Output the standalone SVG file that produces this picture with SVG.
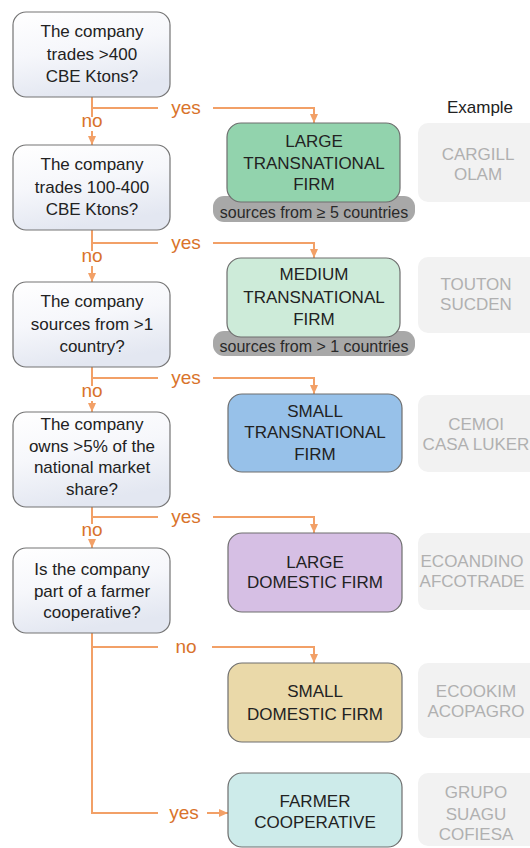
<svg xmlns="http://www.w3.org/2000/svg" width="530" height="848" viewBox="0 0 530 848">
<defs>
<linearGradient id="qg" x1="0" y1="0" x2="0.3" y2="1">
<stop offset="0" stop-color="#FFFFFF"/>
<stop offset="0.5" stop-color="#F6F7FB"/>
<stop offset="1" stop-color="#E3E7F1"/>
</linearGradient>
<marker id="ah" markerUnits="userSpaceOnUse" markerWidth="9" markerHeight="9" viewBox="0 0 9 9" refX="9" refY="4.5" orient="auto">
<path d="M0,0.5 L9,4.5 L0,8.5 Z" fill="#F2A067"/>
</marker>
<style>
.q{fill:url(#qg);stroke:#747474;stroke-width:1.2}
.r{stroke:#6E6E6E;stroke-width:1.2}
.ex{fill:#F2F2F2}
.t{font-family:"Liberation Sans",Arial,sans-serif;font-size:17px;fill:#222;text-anchor:middle}
.et{font-family:"Liberation Sans",Arial,sans-serif;font-size:17px;fill:#B0B0B0;text-anchor:middle}
.lb{font-family:"Liberation Sans",Arial,sans-serif;font-size:19px;fill:#D9732B;text-anchor:middle}
.pl{fill:#A8A8A8}
.pt{font-family:"Liberation Sans",Arial,sans-serif;font-size:16px;fill:#2A2A2A;text-anchor:middle}
.c{fill:none;stroke:#F2A067;stroke-width:2}
</style>
</defs>
<rect width="530" height="848" fill="#FFFFFF"/>

<g id="connectors">
<path class="c" d="M92,97 V117"/>
<path class="c" d="M92,131 V145" marker-end="url(#ah)"/>
<path class="c" d="M92,108 H158"/>
<path class="c" d="M213,108 H314 V123" marker-end="url(#ah)"/>

<path class="c" d="M92,230 V251"/>
<path class="c" d="M92,266 V282" marker-end="url(#ah)"/>
<path class="c" d="M92,243 H158"/>
<path class="c" d="M213,243 H314 V258" marker-end="url(#ah)"/>

<path class="c" d="M92,367 V386"/>
<path class="c" d="M92,401 V412" marker-end="url(#ah)"/>
<path class="c" d="M92,378 H158"/>
<path class="c" d="M213,378 H314 V394" marker-end="url(#ah)"/>

<path class="c" d="M92,507 V524"/>
<path class="c" d="M92,539 V548" marker-end="url(#ah)"/>
<path class="c" d="M92,517 H158"/>
<path class="c" d="M213,517 H314 V533" marker-end="url(#ah)"/>

<path class="c" d="M92,633 V813 H158"/>
<path class="c" d="M92,647 H158"/>
<path class="c" d="M212,647 H314 V663" marker-end="url(#ah)"/>
<path class="c" d="M207,813 H228" marker-end="url(#ah)"/>

<text class="lb" x="186" y="114">yes</text>
<text class="lb" x="92" y="127">no</text>
<text class="lb" x="186" y="249">yes</text>
<text class="lb" x="92" y="262">no</text>
<text class="lb" x="186" y="384">yes</text>
<text class="lb" x="92" y="397">no</text>
<text class="lb" x="186" y="523">yes</text>
<text class="lb" x="92" y="536">no</text>
<text class="lb" x="186" y="653">no</text>
<text class="lb" x="184" y="819">yes</text>
</g>

<g id="q1">
<rect class="q" x="13" y="12" width="157" height="85" rx="13"/>
<text class="t" x="92" y="37">The company</text>
<text class="t" x="92" y="60">trades &gt;400</text>
<text class="t" x="92" y="82">CBE Ktons?</text>
</g>
<g id="q2">
<rect class="q" x="13" y="145" width="157" height="85" rx="13"/>
<text class="t" x="92" y="170">The company</text>
<text class="t" x="92" y="193">trades 100-400</text>
<text class="t" x="92" y="215">CBE Ktons?</text>
</g>
<g id="q3">
<rect class="q" x="13" y="282" width="157" height="85" rx="13"/>
<text class="t" x="92" y="307">The company</text>
<text class="t" x="92" y="330">sources from &gt;1</text>
<text class="t" x="92" y="352">country?</text>
</g>
<g id="q4">
<rect class="q" x="13" y="412" width="157" height="95" rx="13"/>
<text class="t" x="92" y="430">The company</text>
<text class="t" x="92" y="452">owns &gt;5% of the</text>
<text class="t" x="92" y="473">national market</text>
<text class="t" x="92" y="495">share?</text>
</g>
<g id="q5">
<rect class="q" x="13" y="548" width="157" height="85" rx="13"/>
<text class="t" x="92" y="575">Is the company</text>
<text class="t" x="92" y="597">part of a farmer</text>
<text class="t" x="92" y="618">cooperative?</text>
</g>

<text id="example-header" class="t" x="480" y="113" fill="#333">Example</text>

<g id="large-transnational">
<rect class="pl" x="213" y="196" width="202" height="26" rx="11"/>
<rect class="r" x="227" y="123" width="173" height="79" rx="14" fill="#92D3AD"/>
<text class="pt" x="314" y="218">sources from ≥ 5 countries</text>
<text class="t" x="314" y="147">LARGE</text>
<text class="t" x="314" y="169">TRANSNATIONAL</text>
<text class="t" x="314" y="190">FIRM</text>
</g>
<g id="medium-transnational">
<rect class="pl" x="213" y="331" width="202" height="25" rx="11"/>
<rect class="r" x="227" y="258" width="173" height="79" rx="14" fill="#CDEBD9"/>
<text class="pt" x="314" y="352">sources from &gt; 1 countries</text>
<text class="t" x="314" y="280">MEDIUM</text>
<text class="t" x="314" y="303">TRANSNATIONAL</text>
<text class="t" x="314" y="325">FIRM</text>
</g>
<g id="small-transnational">
<rect class="r" x="228" y="394" width="174" height="78" rx="14" fill="#97C1E9"/>
<text class="t" x="315" y="417">SMALL</text>
<text class="t" x="315" y="438">TRANSNATIONAL</text>
<text class="t" x="315" y="460">FIRM</text>
</g>
<g id="large-domestic">
<rect class="r" x="228" y="533" width="174" height="79" rx="14" fill="#D6BFE4"/>
<text class="t" x="315" y="568">LARGE</text>
<text class="t" x="315" y="588">DOMESTIC FIRM</text>
</g>
<g id="small-domestic">
<rect class="r" x="228" y="663" width="174" height="79" rx="14" fill="#EAD9A9"/>
<text class="t" x="315" y="697">SMALL</text>
<text class="t" x="315" y="720">DOMESTIC FIRM</text>
</g>
<g id="farmer-cooperative">
<rect class="r" x="228" y="773" width="174" height="74" rx="14" fill="#CDEBEA"/>
<text class="t" x="315" y="807">FARMER</text>
<text class="t" x="315" y="828">COOPERATIVE</text>
</g>

<g id="ex1">
<rect class="ex" x="418" y="123" width="130" height="79" rx="10"/>
<text class="et" x="478" y="160">CARGILL</text>
<text class="et" x="478" y="180">OLAM</text>
</g>
<g id="ex2">
<rect class="ex" x="418" y="257" width="130" height="76" rx="10"/>
<text class="et" x="476" y="290">TOUTON</text>
<text class="et" x="476" y="310">SUCDEN</text>
</g>
<g id="ex3">
<rect class="ex" x="418" y="395" width="130" height="77" rx="10"/>
<text class="et" x="476" y="430">CEMOI</text>
<text class="et" x="476" y="450">CASA LUKER</text>
</g>
<g id="ex4">
<rect class="ex" x="418" y="533" width="130" height="77" rx="10"/>
<text class="et" x="472" y="567">ECOANDINO</text>
<text class="et" x="472" y="587">AFCOTRADE</text>
</g>
<g id="ex5">
<rect class="ex" x="418" y="663" width="130" height="75" rx="10"/>
<text class="et" x="476" y="697">ECOOKIM</text>
<text class="et" x="476" y="717">ACOPAGRO</text>
</g>
<g id="ex6">
<rect class="ex" x="418" y="773" width="130" height="73" rx="10"/>
<text class="et" x="476" y="798">GRUPO</text>
<text class="et" x="476" y="820">SUAGU</text>
<text class="et" x="476" y="840">COFIESA</text>
</g>
</svg>
